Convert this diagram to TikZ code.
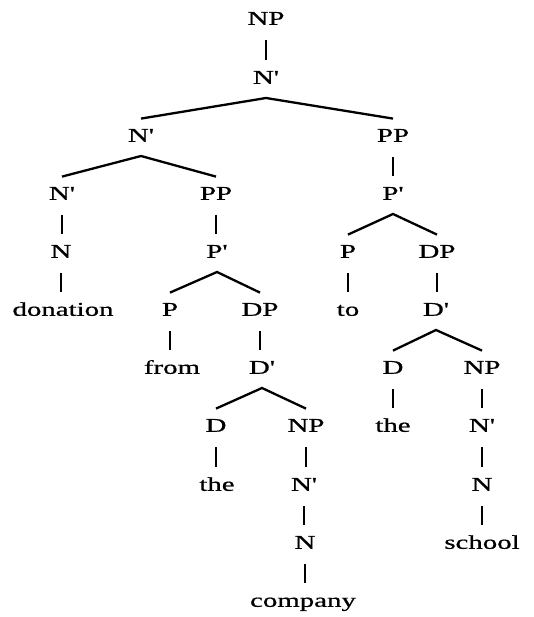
\documentclass[tikz,border=0pt]{standalone}
\usepackage{fontspec}
\setmainfont{Liberation Serif}[FakeBold=0.6]
\usetikzlibrary{calc}
\newcommand\wide[1]{\scalebox{1.48}[1]{#1}}
\newcommand\prm{\textquotesingle}
\tikzset{
  lbl/.style={inner sep=0pt, text height=13pt, text depth=0pt, anchor=south,
    font=\fontsize{19.5}{20}\selectfont},
  edge/.style={line width=2.8pt, line cap=butt}
}
\begin{document}
\begin{tikzpicture}[x=1pt,y=-1pt]
\useasboundingbox (0,0) rectangle (534,617);
% rows baselines: 25 + 58.2 i
\node[lbl] (np0) at (266,25) {\wide{NP}};
\node[lbl] (nb1) at (266,84) {\wide{N\prm}};
\node[lbl] (nb2) at (141,142) {\wide{N\prm}};
\node[lbl] (pp2) at (393,142) {\wide{PP}};
\node[lbl] (nb3) at (62,200) {\wide{N\prm}};
\node[lbl] (pp3) at (216,200) {\wide{PP}};
\node[lbl] (pb3) at (393,200) {\wide{P\prm}};
\node[lbl] (n4) at (61,258) {\wide{N}};
\node[lbl] (pb4) at (217,258) {\wide{P\prm}};
\node[lbl] (p4) at (348,258) {\wide{P}};
\node[lbl] (dp4) at (437,258) {\wide{DP}};
\node[lbl] (don) at (63,316) {\wide{donation}};
\node[lbl] (p5) at (170,316) {\wide{P}};
\node[lbl] (dp5) at (260,316) {\wide{DP}};
\node[lbl] (to) at (348,316) {\wide{to}};
\node[lbl] (db5) at (436,316) {\wide{D\prm}};
\node[lbl] (from) at (172,374) {\wide{from}};
\node[lbl] (db6) at (262,374) {\wide{D\prm}};
\node[lbl] (d6) at (393,374) {\wide{D}};
\node[lbl] (np6) at (482,374) {\wide{NP}};
\node[lbl] (d7) at (216,432) {\wide{D}};
\node[lbl] (np7) at (306,432) {\wide{NP}};
\node[lbl] (the7) at (393,432) {\wide{the}};
\node[lbl] (nb7) at (482,432) {\wide{N\prm}};
\node[lbl] (the8) at (217,491) {\wide{the}};
\node[lbl] (nb8) at (304,491) {\wide{N\prm}};
\node[lbl] (n8) at (482,491) {\wide{N}};
\node[lbl] (n9) at (305,549) {\wide{N}};
\node[lbl] (school) at (482,549) {\wide{school}};
\node[lbl] (company) at (303,607) {\wide{company}};
% vertical connectors
\foreach \a/\b in {np0/nb1, pp2/pb3, nb3/n4, pp3/pb4, n4/don, p4/to, dp4/db5,
  p5/from, dp5/db6, d6/the7, np6/nb7, d7/the8, np7/nb8, nb7/n8, nb8/n9, n8/school, n9/company}
  \draw[edge] ($(\a.south)+(0,15)$) -- ($(\a.south |- \b.north)+(0,-11)$);
% branching connectors
\foreach \a/\b/\c in {nb1/nb2/pp2, nb2/nb3/pp3, pb3/p4/dp4, pb4/p5/dp5, db5/d6/np6, db6/d7/np7}
  \draw[edge, line width=2.3pt, line join=miter]
    ($(\b.north)+(0,-10)$) -- ($(\a.south)+(0,14)$) -- ($(\c.north)+(0,-10)$);
\end{tikzpicture}
\end{document}
